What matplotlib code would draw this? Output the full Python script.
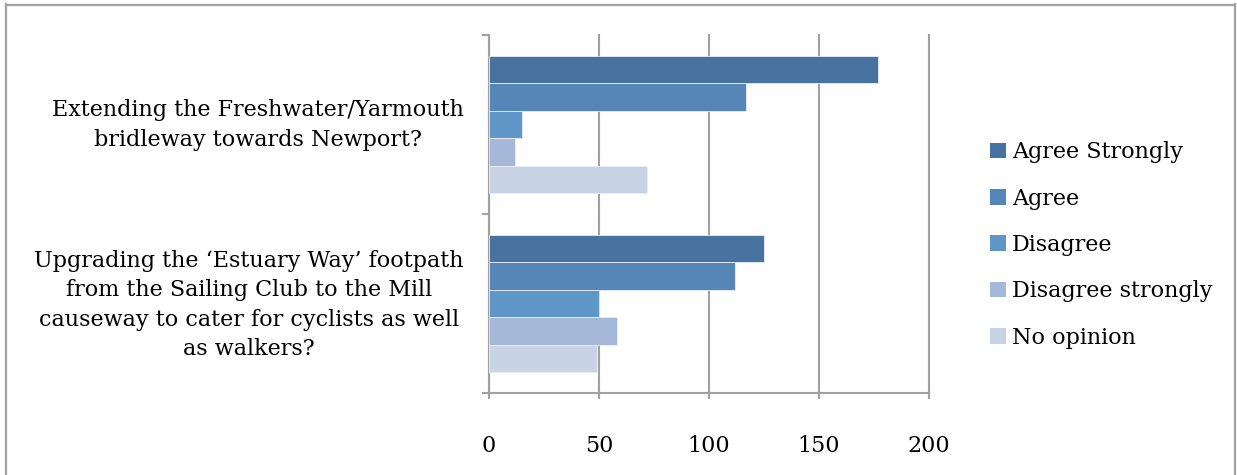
import numpy as np
import matplotlib.pyplot as plt
from matplotlib.patches import Patch

# data
categories = ["Extending the Freshwater/Yarmouth\nbridleway towards Newport?",
              "Upgrading the \u2018Estuary Way\u2019 footpath\nfrom the Sailing Club to the Mill\ncauseway to cater for cyclists as well\nas walkers?"]
series = ["Agree Strongly", "Agree", "Disagree", "Disagree strongly", "No opinion"]
agree_strongly = [177, 125]
agree = [117, 112]
disagree = [15, 50]
disagree_strongly = [12, 58]
no_opinion = [72, 49]
values = [agree_strongly, agree, disagree, disagree_strongly, no_opinion]
colors = ["#48729F", "#5685B7", "#5F96C8", "#A5B8D9", "#C8D3E5"]
xticks = [0, 50, 100, 150, 200]

font = "DejaVu Serif"
fs = 16
grid_col = "#A0A0A0"

W, H = 1237, 475
fig = plt.figure(figsize=(W / 100, H / 100), dpi=100)
ax = fig.add_axes([489 / W, 82 / H, 440 / W, 358 / H])

bar_h = 0.1536
group_h = bar_h * len(series)
for ci in range(len(categories)):
    top = ci + 0.5 - group_h / 2
    for si in range(len(series)):
        y = top + bar_h * (si + 0.5)
        ax.barh(y, values[si][ci], height=bar_h, color=colors[si],
                edgecolor="#E8EEF6", linewidth=0.6, zorder=3)

ax.set_xlim(0, 200)
ax.set_ylim(2, 0)
ax.set_xticks(xticks)
ax.set_xticklabels([str(t) for t in xticks], fontfamily=font, fontsize=fs)
ax.set_yticks([0, 1, 2])
ax.set_yticklabels([])
ax.grid(axis="x", color=grid_col, linewidth=1.5, zorder=0)
for gl in ax.get_xgridlines():
    gl.set_clip_on(False)
for s in ["top", "right"]:
    ax.spines[s].set_visible(False)
for s in ["left", "bottom"]:
    ax.spines[s].set_color(grid_col)
    ax.spines[s].set_linewidth(1.5)
ax.tick_params(axis="x", direction="inout", length=9, width=1.5, color=grid_col, pad=26)
ax.tick_params(axis="y", direction="out", length=5, width=1.5, color=grid_col)

# category labels, centred lines, block right-aligned left of the axis
label_y = [125, 305]
for ci, lab in enumerate(categories):
    fig.text(464 / W, 1 - label_y[ci] / H, lab, ha="right", va="center",
             multialignment="center", fontfamily=font, fontsize=fs, linespacing=1.42)

handles = [Patch(facecolor=c, edgecolor="none") for c in colors]
fig.legend(handles, series, loc="center left", bbox_to_anchor=(970 / W, 1 - 245 / H),
           frameon=False, prop={"family": font, "size": fs}, handlelength=0.7,
           handleheight=0.7, handletextpad=0.3, labelspacing=1.1)

# outer chart frame
fig.add_artist(plt.Line2D([6 / W, 6 / W], [0, 1 - 4 / H], transform=fig.transFigure,
                          color=grid_col, linewidth=1.6))
fig.add_artist(plt.Line2D([6 / W, 1235 / W], [1 - 5 / H, 1 - 5 / H], transform=fig.transFigure,
                          color=grid_col, linewidth=1.6))
fig.add_artist(plt.Line2D([1235 / W, 1235 / W], [0, 1 - 4 / H], transform=fig.transFigure,
                          color=grid_col, linewidth=1.6))

fig.savefig("out.png", dpi=100)
